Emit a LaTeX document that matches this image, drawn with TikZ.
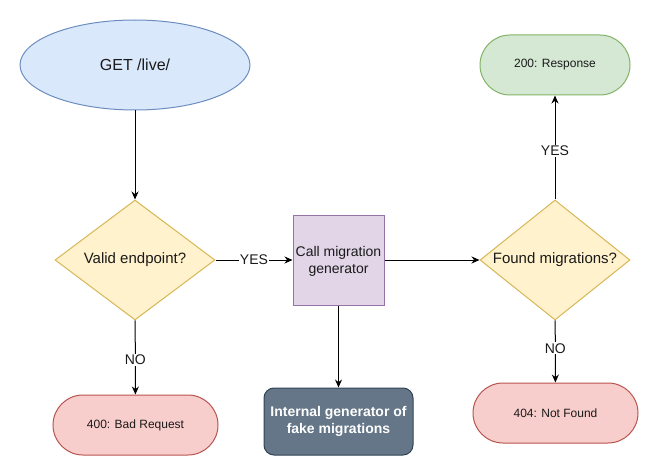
\documentclass[tikz,border=0pt]{standalone}
\usepackage{fontspec}
\setmainfont{Liberation Sans}
\usetikzlibrary{shapes.geometric,arrows.meta}
\definecolor{blueF}{HTML}{DAE8FC}\definecolor{blueD}{HTML}{6C8EBF}
\definecolor{yelF}{HTML}{FFF2CC}\definecolor{yelD}{HTML}{D6B656}
\definecolor{purF}{HTML}{E1D5E7}\definecolor{purD}{HTML}{9673A6}
\definecolor{grnF}{HTML}{D5E8D4}\definecolor{grnD}{HTML}{82B366}
\definecolor{redF}{HTML}{F8CECC}\definecolor{redD}{HTML}{B85450}
\definecolor{slaF}{HTML}{647687}\definecolor{slaD}{HTML}{314354}
\definecolor{txt}{HTML}{1A1A1A}
\tikzset{
  base/.style={line width=1pt, inner sep=0pt, text=txt, align=center},
  startnode/.style={base, ellipse, fill=blueF, draw=blueD, minimum width=230pt, minimum height=90pt, font=\fontsize{16}{19}\selectfont},
  decision/.style={base, diamond, aspect=1.25, fill=yelF, draw=yelD, font=\fontsize{15}{18}\selectfont},
  process/.style={base, rectangle, fill=purF, draw=purD, font=\fontsize{14}{17}\selectfont},
  term/.style={base, rectangle, rounded corners=30pt, minimum height=60pt, font=\fontsize{12}{14}\selectfont},
  okterm/.style={term, fill=grnF, draw=grnD},
  errterm/.style={term, fill=redF, draw=redD},
  darkbox/.style={base, rectangle, rounded corners=10pt, fill=slaF, draw=slaD, text=white, font=\bfseries\fontsize{14}{17}\selectfont},
  conn/.style={line width=1pt, draw=black, -{Stealth[length=8pt,width=7pt]}},
  lbl/.style={fill=white, inner sep=1pt, text=txt, font=\fontsize{14}{16}\selectfont}
}
\begin{document}
\begin{tikzpicture}[x=1pt,y=-1pt]
\useasboundingbox (0,0) rectangle (659,476);
\node[startnode] (get) at (135,65) {GET /live/};
\node[decision, minimum width=160pt, minimum height=120pt] (valid) at (135,260) {Valid endpoint?};
\node[process, minimum width=91pt, minimum height=90pt] (call) at (338.5,260) {};
\node[text=txt, font=\fontsize{14}{17}\selectfont, align=center] (calltxt) at (338.5,261) {Call migration\\generator};
\node[decision, minimum width=150pt, minimum height=120pt] (found) at (555,260) {Found migrations?};
\node[okterm, minimum width=150pt] (ok) at (555,65) {200: Response};
\node[errterm, minimum width=165pt] (nf) at (555.5,413) {404: Not Found};
\node[errterm, minimum width=165pt] (bad) at (135.5,425) {400: Bad Request};
\node[darkbox, minimum width=149pt, minimum height=67pt] (gen) at (338.5,421.5) {Internal generator of\\fake migrations};
\draw[conn] (get) -- (valid);
\draw[conn] (valid) -- node[lbl]{YES} (call);
\draw[conn] (valid) -- node[lbl, pos=0.53]{NO} (bad);
\draw[conn] (call) -- (found);
\draw[conn] (found) -- node[lbl, pos=0.47]{YES} (ok);
\draw[conn] (found) -- node[lbl, pos=0.45]{NO} (nf);
\draw[conn] (call.south -| gen.north) -- (gen.north);
\end{tikzpicture}
\end{document}
